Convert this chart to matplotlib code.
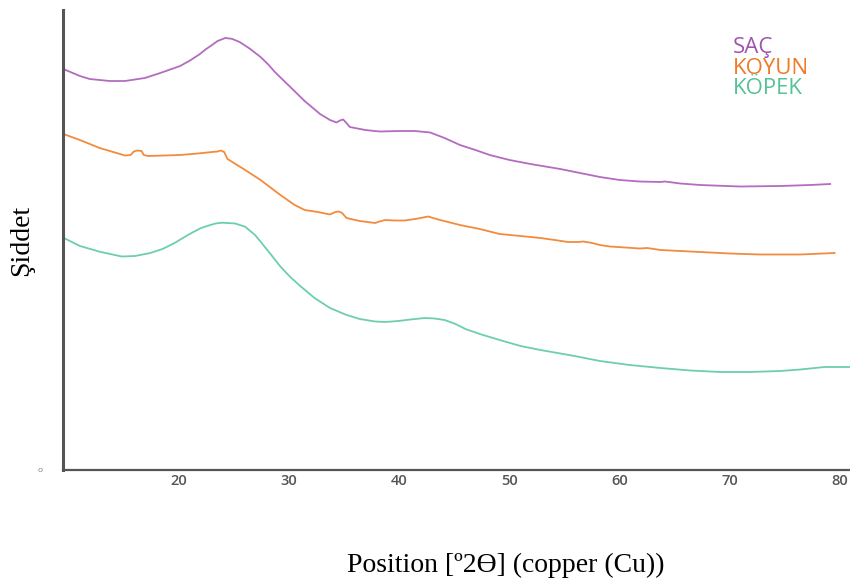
import numpy as np
import matplotlib.pyplot as plt

# SAÇ (hair)
sac_x = [9.5, 11.0, 11.9, 13.7, 15.1, 16.9, 18.3, 20.1, 21.0, 21.9, 22.4, 23.0, 23.5, 24.2,
         24.8, 25.5, 26.4, 27.4, 28.1, 28.7, 30.1, 31.4, 32.8, 33.7, 34.3, 34.6, 34.9, 35.2,
         35.5, 36.9, 38.2, 40.1, 41.4, 42.8, 44.1, 45.5, 46.9, 48.2, 50.0, 51.9, 54.6, 56.4,
         58.2, 60.0, 61.8, 63.7, 64.1, 65.5, 67.3, 70.9, 74.6, 77.3, 79.1]
sac_y = [401, 394, 391, 389, 389, 392, 397, 404, 409.5, 416, 420.5, 425, 429, 432,
         431.2, 428, 421.5, 413, 405.5, 398, 383, 369, 356, 350, 347.5, 349.5, 350.5, 347,
         343, 340, 338.5, 339, 339, 337.5, 332, 325, 320, 315, 310, 306, 301, 297,
         293, 290, 288.5, 288, 288.5, 286.5, 285, 283.5, 284, 285, 286]

# KOYUN (sheep)
koyun_x = [9.5, 11.0, 12.8, 15.1, 15.6, 15.9, 16.2, 16.6, 16.8, 17.2, 18.7, 20.1, 21.9, 23.0,
           23.5, 23.8, 24.1, 24.4, 26.0, 27.4, 29.2, 30.5, 31.4, 32.6, 33.7, 34.2, 34.5, 34.8,
           35.2, 36.4, 37.8, 38.2, 38.7, 39.6, 40.5, 41.7, 42.6, 43.7, 45.5, 47.3, 49.1, 51.0,
           52.8, 54.1, 55.3, 56.2, 56.7, 57.5, 58.2, 59.1, 60.5, 61.8, 62.5, 63.7, 67.3, 70.0,
           72.7, 76.4, 79.5]
koyun_y = [336, 330, 322, 314.5, 315, 318.5, 319.5, 319, 315, 314, 314.5, 315, 316.7, 318,
           318.5, 319.5, 318, 311, 300, 290, 275, 265, 260, 258, 255.5, 258, 258.5, 257,
           252, 249, 247, 248.5, 250, 249.5, 249.5, 251.5, 253.5, 250, 245, 241, 236, 234,
           232, 230, 228, 228, 228.5, 227, 225, 223.5, 222.5, 221.5, 222, 220, 218, 216.5,
           215.5, 215.5, 217]

# KÖPEK (dog)
kopek_x = [9.5, 11.0, 12.8, 14.8, 16.0, 17.4, 18.5, 19.6, 20.8, 21.9, 22.4, 23.3, 23.9, 25.1,
           26.0, 26.9, 27.5, 28.3, 29.2, 30.1, 31.0, 32.3, 33.7, 35.1, 36.4, 37.8, 38.7, 39.9,
           41.0, 42.3, 43.2, 44.1, 45.1, 46.0, 47.3, 49.1, 51.0, 52.8, 54.1, 55.9, 58.2, 60.9,
           63.7, 66.4, 69.1, 71.8, 74.6, 76.4, 77.7, 78.6, 80.9]
kopek_y = [232.3, 224, 218.3, 213.5, 214, 217, 221, 227, 235, 241.5, 243.5, 246.5, 247.3, 246.5,
           243.3, 235, 227, 216, 203.5, 193, 184, 172, 162, 155.5, 151, 148.5, 148, 149,
           150.5, 152, 151.5, 150, 146, 141, 136, 130, 124, 120, 117.5, 114, 109, 105,
           102, 99.5, 98, 98, 99, 100.5, 102, 103, 103]

labels = ["SAÇ", "KOYUN", "KÖPEK"]
colors = ["#b36cbf", "#f28b3c", "#6dcfa9"]
text_colors = ["#a052b0", "#ee7a2a", "#55c297"]
xticks = [20, 30, 40, 50, 60, 70, 80]

fig = plt.figure(figsize=(8.5, 5.81), dpi=100)
ax = fig.add_axes([63 / 850, 1 - 470 / 581, 1 - 63 / 850, 460 / 581])

ax.plot(sac_x, sac_y, color=colors[0], lw=1.3)
ax.plot(koyun_x, koyun_y, color=colors[1], lw=1.3)
ax.plot(kopek_x, kopek_y, color=colors[2], lw=1.3)

ax.set_xlim(9.47, 80.9)
ax.set_ylim(0, 460)
ax.set_xticks(xticks)
ax.set_xticklabels([str(t) for t in xticks], family="Open Sans", color="#555555",
                   fontsize=10.5, fontweight="semibold")
ax.set_yticks([0])
ax.set_yticklabels(["o"], family="Open Sans", color="#777777", fontsize=6)
ax.tick_params(axis="both", length=0)
ax.tick_params(axis="x", pad=3)
ax.tick_params(axis="y", pad=15)

for s in ["top", "right"]:
    ax.spines[s].set_visible(False)
ax.spines["left"].set_color("#555555")
ax.spines["left"].set_linewidth(2.2)
ax.spines["bottom"].set_color("#555555")
ax.spines["bottom"].set_linewidth(1.6)

# legend as coloured words, no handles
for i, lab in enumerate(labels):
    fig.text(733 / 850, 1 - (47 + 21 * i) / 581, lab, color=text_colors[i],
             family="Open Sans", fontsize=16, va="center", ha="left")

fig.text(506 / 850, 1 - 565 / 581, "Position [º2Ө] (copper (Cu))",
         family="Liberation Serif", fontsize=20, ha="center", va="center")
fig.text(22 / 850, 1 - 240 / 581, "Şiddet", family="Liberation Serif",
         fontsize=20, rotation=90, ha="center", va="center")

plt.savefig("out.png", dpi=100)
